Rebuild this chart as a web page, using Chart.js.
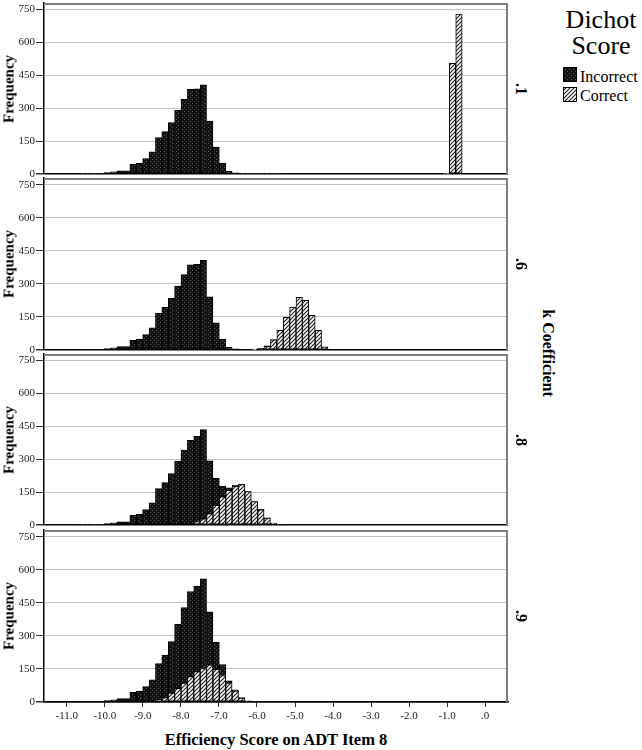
<!DOCTYPE html>
<html>
<head>
<meta charset="utf-8">
<script src="https://cdn.jsdelivr.net/npm/chart.js@4.4.1/dist/chart.umd.min.js"></script>
<style>
  html, body { margin: 0; padding: 0; background: #fff; }
  body {
    width: 642px; height: 750px; position: relative; overflow: hidden;
    font-family: "Liberation Serif", "DejaVu Serif", serif; color: #000;
  }
  canvas.panel { position: absolute; left: 0; }
  .rot { position: absolute; white-space: nowrap; font-weight: bold; line-height: 1; }
  .rot.up   { transform: translate(-50%, -50%) rotate(-90deg); }
  .rot.down { transform: translate(-50%, -50%) rotate(90deg); }
  #x-title { position: absolute; left: 44px; width: 464px; top: 732px; text-align: center;
             font-weight: bold; font-size: 16.5px; line-height: 1; white-space: nowrap; }
  #legend-title { position: absolute; left: 556px; width: 90px; top: 7px; text-align: center;
                  font-size: 26px; line-height: 26px; }
  .swatch { position: absolute; left: 563px; width: 14px; height: 15px; }
  .leg-text { position: absolute; left: 580px; font-size: 16px; line-height: 16px; white-space: nowrap; }
</style>
</head>
<body>

<div id="x-title">Efficiency Score on ADT Item 8</div>
<div id="legend-title">Dichot<br>Score</div>
<canvas class="swatch" id="sw-incorrect" width="14" height="15" style="top:67px"></canvas>
<div class="leg-text" style="top:69px">Incorrect</div>
<canvas class="swatch" id="sw-correct" width="14" height="15" style="top:87px"></canvas>
<div class="leg-text" style="top:88px">Correct</div>

<script>
// ── Data ──────────────────────────────────────────────────
// histogram bin centres (bin width ~0.168)
const binCenters = [
  -10.602, -10.434, -10.266, -10.098, -9.930, -9.762, -9.594, -9.426, -9.258, -9.090,
  -8.922, -8.754, -8.586, -8.418, -8.250, -8.082, -7.914, -7.746, -7.578, -7.410,
  -7.242, -7.074, -6.906, -6.738, -6.570, -6.402, -6.234, -6.066, -5.898, -5.730,
  -5.562, -5.394, -5.226, -5.058, -4.890, -4.722, -4.554, -4.386, -4.218, -4.050,
  -3.882, -3.714, -3.546, -3.378, -3.210, -3.042, -2.874, -2.706, -2.538, -2.370,
  -2.202, -2.034, -1.866, -1.698, -1.530, -1.362, -1.194, -1.026, -0.858, -0.690,
];

// Incorrect is the same group in every panel
const incorrectCounts = [
  2, 1, 2, 3, 6, 10, 15, 15, 44, 49,
  70, 101, 166, 193, 234, 290, 342, 386, 388, 407,
  241, 123, 50, 12, 5, 2, 1, 1, 2, 2,
  1, 1, 0, 0, 0, 0, 0, 0, 0, 0,
  0, 0, 0, 0, 0, 0, 0, 0, 0, 0,
  0, 0, 0, 0, 0, 0, 0, 0, 0, 0,
];

const correctK1 = [
  0, 0, 0, 0, 0, 0, 0, 0, 0, 0,
  0, 0, 0, 0, 0, 0, 0, 0, 0, 0,
  0, 0, 0, 0, 0, 0, 0, 0, 0, 0,
  0, 0, 0, 0, 0, 0, 0, 0, 0, 0,
  0, 0, 0, 0, 0, 0, 0, 0, 0, 0,
  0, 0, 0, 0, 0, 0, 0, 3, 505, 730,
];

const correctK6 = [
  0, 0, 0, 0, 0, 0, 0, 0, 0, 0,
  0, 0, 0, 0, 0, 0, 0, 0, 0, 0,
  0, 0, 0, 0, 0, 0, 0, 2, 6, 17,
  46, 89, 148, 195, 239, 225, 157, 89, 14, 0,
  0, 0, 0, 0, 0, 0, 0, 0, 0, 0,
  0, 0, 0, 0, 0, 0, 0, 0, 0, 0,
];

const correctK8 = [
  0, 0, 0, 0, 0, 0, 0, 0, 0, 0,
  0, 0, 0, 0, 0, 0, 0, 0, 16, 28,
  52, 90, 128, 158, 176, 184, 153, 107, 69, 31,
  8, 0, 0, 0, 0, 0, 0, 0, 0, 0,
  0, 0, 0, 0, 0, 0, 0, 0, 0, 0,
  0, 0, 0, 0, 0, 0, 0, 0, 0, 0,
];

const correctK9 = [
  0, 0, 0, 0, 0, 0, 0, 0, 0, 0,
  0, 0, 8, 20, 40, 62, 86, 115, 138, 152,
  168, 148, 120, 84, 50, 18, 4, 0, 0, 0,
  0, 0, 0, 0, 0, 0, 0, 0, 0, 0,
  0, 0, 0, 0, 0, 0, 0, 0, 0, 0,
  0, 0, 0, 0, 0, 0, 0, 0, 0, 0,
];

const panelLabels  = [".1", ".6", ".8", ".9"];
const correctSets  = [correctK1, correctK6, correctK8, correctK9];
const yTickValues  = [0, 150, 300, 450, 600, 750];
const xTickValues  = [-11, -10, -9, -8, -7, -6, -5, -4, -3, -2, -1, 0];

// ── Layout ────────────────────────────────────────────────
const panelTops    = [3, 178, 354, 530];
const panelBottoms = [174, 350, 525, 702];
const PAD_TOP = 8, PAD_BOTTOM = 8, X_AXIS_H = 24;
const FONT = "'Liberation Serif', 'DejaVu Serif', serif";

// ── Fill patterns ─────────────────────────────────────────
function darkTile() {
  const c = document.createElement("canvas");
  c.width = 4; c.height = 4;
  const g = c.getContext("2d");
  g.fillStyle = "#121212"; g.fillRect(0, 0, 4, 4);
  g.fillStyle = "#5c5c5c"; g.fillRect(0, 0, 1, 1); g.fillRect(2, 2, 1, 1);
  return c;
}

function hatchTile() {
  const c = document.createElement("canvas");
  c.width = 4; c.height = 4;
  const g = c.getContext("2d");
  g.fillStyle = "#fff"; g.fillRect(0, 0, 4, 4);
  g.strokeStyle = "#1a1a1a"; g.lineWidth = 1.1;
  g.beginPath();
  g.moveTo(-1, 5); g.lineTo(5, -1);
  g.moveTo(-1, 1); g.lineTo(1, -1);
  g.moveTo(3, 5);  g.lineTo(5, 3);
  g.stroke();
  return c;
}

const scratch = document.createElement("canvas").getContext("2d");
const darkFill  = scratch.createPattern(darkTile(), "repeat");
const hatchFill = scratch.createPattern(hatchTile(), "repeat");

function paintSwatch(id, fill) {
  const g = document.getElementById(id).getContext("2d");
  g.fillStyle = fill; g.fillRect(0, 0, 14, 15);
  g.strokeStyle = "#000"; g.lineWidth = 1; g.strokeRect(0.5, 0.5, 13, 14);
}
paintSwatch("sw-incorrect", darkFill);
paintSwatch("sw-correct", hatchFill);

// ── Frame plugin (grey box round each panel) ──────────────
const framePlugin = {
  id: "frame",
  afterDraw(chart) {
    const { ctx, chartArea: a } = chart;
    ctx.save();
    ctx.strokeStyle = "#7d7d7d";
    ctx.lineWidth = 2;
    ctx.beginPath();
    ctx.moveTo(a.left, a.top + 1);
    ctx.lineTo(a.right - 1, a.top + 1);
    ctx.lineTo(a.right - 1, a.bottom);
    ctx.stroke();
    ctx.restore();
  },
};

function toPoints(counts) {
  return counts
    .map((c, i) => ({ x: binCenters[i], y: c }))
    .filter(p => p.y > 0);
}

function addText(cls, text, x, y, size) {
  const d = document.createElement("div");
  d.className = "rot " + cls;
  d.textContent = text;
  d.style.left = x + "px";
  d.style.top = y + "px";
  d.style.fontSize = size + "px";
  document.body.appendChild(d);
}

// ── Panels ────────────────────────────────────────────────
function buildPanel(i) {
  const isLast = i === panelTops.length - 1;
  const canvas = document.createElement("canvas");
  canvas.className = "panel";
  canvas.width = 510;
  canvas.height = panelBottoms[i] - panelTops[i] + PAD_TOP + (isLast ? X_AXIS_H : PAD_BOTTOM);
  canvas.style.top = (panelTops[i] - PAD_TOP) + "px";
  document.body.appendChild(canvas);

  const barStyle = {
    borderColor: "#000",
    borderWidth: 1,
    borderSkipped: false,
    categoryPercentage: 1,
    barPercentage: 1,
  };

  new Chart(canvas, {
    type: "bar",
    data: {
      datasets: [
        { label: "Correct",   data: toPoints(correctSets[i]), backgroundColor: hatchFill, ...barStyle },
        { label: "Incorrect", data: toPoints(incorrectCounts), backgroundColor: darkFill, ...barStyle },
      ],
    },
    options: {
      responsive: false,
      animation: false,
      layout: { padding: { top: PAD_TOP, right: 2, bottom: isLast ? 0 : PAD_BOTTOM, left: 0 } },
      scales: {
        x: {
          type: "linear",
          stacked: true,
          offset: false,
          min: -11.6, max: 0.6,
          display: isLast,
          afterBuildTicks: s => { s.ticks = xTickValues.map(v => ({ value: v })); },
          afterFit: s => { s.height = isLast ? X_AXIS_H : 0; },
          ticks: {
            autoSkip: false, maxRotation: 0, padding: 3,
            font: { family: FONT, size: 11 }, color: "#222",
            callback: v => (v === 0 ? ".0" : v.toFixed(1)),
          },
          grid: { offset: false, drawOnChartArea: false, tickColor: "#333", tickLength: 5 },
          border: { color: "#000", width: 1.5 },
        },
        y: {
          stacked: true,
          min: 0, max: 780,
          afterBuildTicks: s => { s.ticks = yTickValues.map(v => ({ value: v })); },
          afterFit: s => { s.width = 44; },
          ticks: { padding: 1, font: { family: FONT, size: 11 }, color: "#222" },
          grid: {
            color: c => (c.tick && c.tick.value === 0 ? "#000" : "#c2c2c2"),
            lineWidth: c => (c.tick && c.tick.value === 0 ? 1.5 : 1),
            tickColor: "#333",
            tickLength: 8,
          },
          border: { color: "#000", width: 1.5 },
        },
      },
      plugins: { legend: { display: false }, tooltip: { enabled: false } },
    },
    plugins: [framePlugin],
  });

  const mid = (panelTops[i] + panelBottoms[i]) / 2;
  addText("up", "Frequency", 9, mid, 15);
  addText("down", panelLabels[i], 521, mid, 16);
}

panelTops.forEach((_, i) => buildPanel(i));

addText("down", "k Coefficient", 548, (panelTops[0] + panelBottoms[3]) / 2, 16);
</script>
</body>
</html>
